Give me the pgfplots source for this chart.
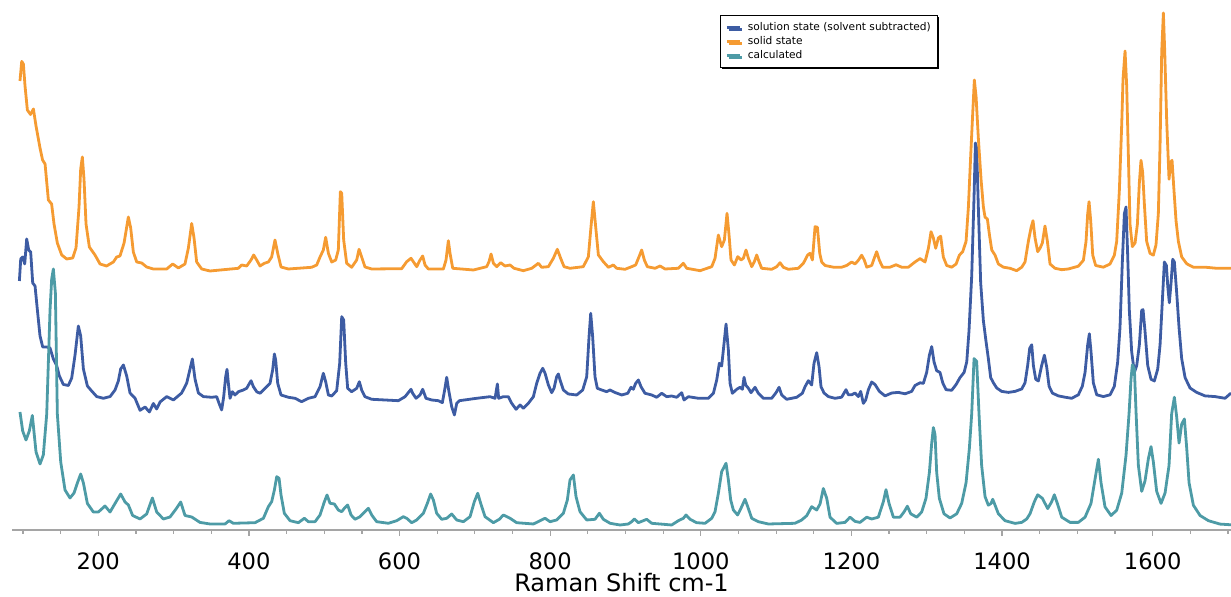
\documentclass[border=0pt]{standalone}
\usepackage{pgfplots}
\pgfplotsset{compat=1.18}
\usepackage{fontspec}
\setmainfont{DejaVu Sans}
\usetikzlibrary{shadows}
\definecolor{cBlue}{RGB}{61,92,163}
\definecolor{cOrange}{RGB}{245,155,50}
\definecolor{cTeal}{RGB}{77,155,166}
\definecolor{cAxis}{RGB}{165,165,165}
\begin{document}
\begin{tikzpicture}
\begin{axis}[
  name=ax,
  scale only axis,
  width=609.5pt, height=265pt,
  xmin=85.4, xmax=1704, ymin=0, ymax=530,
  axis x line*=bottom, axis y line=none,
  x axis line style={cAxis, line width=1pt, -},
  xtick={200,400,...,1600},
  minor xtick={100,150,...,1700},
  ytick=\empty,
  tick style={cAxis, line width=0.6pt},
  major tick length=3pt, minor tick length=2pt,
  tick align=outside,
  /pgf/number format/assume math mode=true,
  /pgf/number format/1000 sep={},
  xticklabel style={font=\fontsize{11.3}{12}\selectfont, anchor=center, yshift=-12.5pt},
  xlabel={Raman Shift cm-1},
  xlabel style={font=\fontsize{12}{14}\selectfont, at={(axis description cs:0.5,0)}, anchor=center, yshift=-26.5pt},
  legend style={at={(axis description cs:0.5808,0.9717)}, anchor=north west,
    font=\fontsize{5.3}{6}\selectfont, draw=black, line width=0.5pt, fill=white,
    drop shadow={shadow xshift=1pt, shadow yshift=-1pt, opacity=1, fill=black},
    inner xsep=2.5pt, inner ysep=2.5pt, row sep=0pt, cells={anchor=west},
    nodes={inner sep=0.8pt, text height=4.2pt, text depth=1.2pt}},
  legend image code/.code={\draw[#1, line width=1.3pt] (0pt,0pt) -- (6.5pt,0pt); \path (9pt,0pt);},
  every axis plot/.append style={line width=1.4pt, line join=round},
]
\addplot[cBlue] coordinates {
(95.2,249) (97,271) (99.6,273) (102.3,266) (104.9,291) (107.6,280) (110.2,278) (112.9,247) (116,244) (119.1,220) (122.6,194) (126.2,183) (131.5,183) (135.9,182) (140.3,171) (144.7,164.5) (148.3,154) (153.6,145.5) (160.2,144.5) (164.7,152) (169.1,175) (173.5,204) (176.6,194) (180.2,161) (185.5,144) (191.2,139) (197.9,133.4) (206.7,131.7) (215.6,133.4) (222.2,140) (226.6,149) (229.7,161) (233.3,165) (237.7,154) (242.1,137) (248.8,131.7) (255.4,119.7) (262.1,123) (267.8,118) (273.1,126.5) (277.5,121) (282,128) (290.8,133.4) (299.7,130) (310.7,137) (317.4,147) (321.8,161) (324.9,171) (328.4,151) (332.9,137) (339.5,133.4)
(350.6,132.7) (357.2,133.3) (360.3,126.7) (363.8,120) (366.5,133.3) (369.1,153.3) (370.9,160.7) (372.7,146.7) (374.9,131.7) (378,138.3) (381.5,135) (386,138.3) (392.6,140) (397,141.7) (402.8,149.3) (405.9,143.3) (410.3,138.3) (414.7,136.7) (421.4,141.7) (428,146.7) (431.5,160) (433.8,176) (435.5,170) (438.2,146.7) (442.6,135) (452.4,132.7) (461.2,131.7) (470,128.3) (478.9,131.7) (487.8,133.3) (494.4,143.3) (498.8,156.7) (501.9,148.3) (505.5,135) (509.9,134) (516.5,139.3) (520.5,166.7) (523.2,213.3) (525.8,210) (528.5,166.7) (531.1,141.7) (536.4,138.3) (543.1,141.7) (546.6,148.3) (549.7,140) (554.1,133.3) (563,130.7) (580.7,130) (598.4,129.3) (607.3,133.3) (615.2,140.7)
(617.4,136.7) (621.9,131.7) (627.2,135) (630.7,140.7) (635.1,131.7) (642.7,130) (651.5,129.3) (656.8,127.3) (659.9,140) (662.6,152.7) (665.2,140) (669.2,123.3) (672.8,115) (675.9,126.7) (679.4,129.3) (702.4,131.7) (720.1,133.3) (726.8,131.7) (729.9,146) (731.6,131.7) (737.8,133.3) (744.5,133.3) (748.9,126.7) (754.7,120.7) (760,125) (764.4,121.7) (771,126.7) (777.7,133.3) (782.1,146.7) (786.5,156.7) (790.1,161.7) (793.2,156.7) (797.6,145) (802,137.3) (805.1,141.7) (808.6,153.3) (810.9,156) (813.1,150) (817.5,140) (824.1,136) (835.2,135) (843.2,140) (848.5,153.3) (851.6,193.3) (853.8,216.7) (856.4,193.3) (859.5,153.3) (862.6,141.7) (868.4,140) (875,138.3) (879.5,140) (886.1,137.5)
(895,135) (903,136.7) (907.3,142.7) (910.4,140.7) (913.5,146.7) (917.1,150) (920.6,143.3) (925.9,136.7) (934.8,135) (941.4,132.7) (948.1,136.7) (954.7,133.3) (961.3,134) (968,132.7) (974.6,137.3) (977.7,130) (983.5,133.3) (996.8,131.7) (1010,131.7) (1016.7,136.7) (1021.1,150) (1024.6,166.7) (1027.7,164) (1030.4,183.3) (1033.5,206) (1036.6,180) (1038.8,146.7) (1041.9,136.7) (1047.7,140.7) (1052.1,142.7) (1055.2,140.7) (1057.4,152.7) (1059.6,145) (1063.2,141.7) (1066.7,137.3) (1072,142.7) (1076.4,136.7) (1083.1,131.7) (1094.1,131.7) (1099.9,137.3) (1103.9,142.7) (1107.4,135) (1114,130.7) (1127.3,132.7) (1134.8,136.7) (1138.4,143.3) (1142.8,149.3) (1147.2,145) (1150.3,166.7) (1153.9,177.3) (1157,163.3) (1159.6,143.3)
(1163.6,137) (1169.4,133.4) (1178.2,131.7) (1187,132.8) (1192.8,140.3) (1195.9,135.2) (1200.3,135.2) (1204.8,137) (1209.2,133.4) (1212.3,138.6) (1215.8,126.6) (1218.9,130) (1222.5,140.3) (1226.9,148) (1231.3,145.5) (1237.1,138.6) (1244.6,134.1) (1253.5,137) (1262.3,137.6) (1271.2,136.2) (1280,138.6) (1284.4,144.5) (1291.1,147.2) (1295.5,146.6) (1299.9,157.6) (1303.5,174.8) (1306.6,183.4) (1309.7,168) (1313.2,159.3) (1317.6,157.6) (1321.2,147.2) (1325.6,140.3) (1333.1,139.7) (1339,145.5) (1344.2,152.4) (1349.6,157.6) (1353.1,168) (1356.1,199) (1359.7,254) (1362.8,333.4) (1364.6,387) (1366.3,381.7) (1368.5,323) (1371.6,247.2) (1375.2,209.3) (1378.7,188.6) (1381.8,171.4) (1384.9,152.4) (1388.5,147.2) (1392.9,142) (1399.5,138.6) (1408.4,137.6) (1417.2,138.6) (1426.1,141)
(1430.5,147.2) (1434,164.5) (1436.7,181.7) (1439.4,185.2) (1441.6,164.5) (1444.7,150.7) (1448.2,149) (1452.6,164.5) (1456.2,174.8) (1459.3,162.8) (1462.4,143.8) (1466.8,136.9) (1474.8,134.1) (1483.6,132.8) (1492.5,131.7) (1501.3,135.2) (1506.6,143.8) (1510.2,157.6) (1513.7,185.2) (1515.9,196.2) (1518.1,178.3) (1521.2,147.2) (1525.7,135.2) (1534.5,133.4) (1543.4,135.2) (1549.1,143.8) (1553.5,167.9) (1556.6,202.4) (1559.7,268) (1562.4,316.2) (1564.6,323) (1566.8,274.8) (1569,219.7) (1572.1,178.3) (1575.7,157.6) (1578.8,164.5) (1582.3,185.2) (1585.4,219.7) (1587.2,220.3) (1589.8,199) (1593.4,164.5) (1597.8,150.7) (1602.2,149) (1606.7,161) (1609.8,185.2) (1612.9,230) (1615.5,268) (1618.2,264.5) (1620,243.8) (1622.1,227.2) (1624.4,247.2) (1626.6,270.7) (1628.8,268) (1631.9,236.9) (1635,202.4) (1638.5,171.4) (1643,152.4) (1649.6,142) (1658.4,137.6) (1669.5,134.1) (1682.8,133.4) (1696.1,131.7) (1704,136.9)
};
\addlegendentry{solution state (solvent subtracted)}
\addplot[cOrange] coordinates {
(96,449) (98.3,468.6) (100.5,466) (102.7,444) (105.8,420) (110,415.5) (113.8,421) (117.3,404) (122.6,382) (126,370) (129.3,366) (133.7,330) (138,326) (141.2,306) (145.6,287) (151.4,275) (158,271) (166,272) (170.4,282) (174.4,323) (176.6,361) (178.8,373) (181,351) (183.7,306) (188.1,283) (195.6,275) (202.3,266) (211,264) (220,268) (224.4,273) (228.8,274) (234.2,287) (239.9,313) (243,302) (246.5,278) (251,268) (257.6,267) (264.2,263) (273,261) (290.8,261) (298.8,266) (306.3,262) (315.1,266) (319.6,282) (324,306.5) (327.1,292) (330.6,268) (337.3,261) (348.3,259)
(386,261.7) (390.4,265) (397,264) (402.8,270) (406.3,275) (410.3,270) (414.7,264) (420.5,266.7) (425.8,268) (430.2,273) (434.6,290) (438.2,276.7) (442.6,263) (452.4,261) (483.3,262.7) (490,265) (494.4,273) (498.8,280) (501.9,292.7) (505.5,276.7) (509.9,268) (515.2,270) (518.7,280) (521.4,338.3) (523.2,336.7) (525.8,290) (529.8,266.7) (536.4,262.7) (543.1,270) (546.2,280.7) (549.7,273) (554.1,263) (563,261) (602.8,261.3) (609.5,268.3) (615.2,271.7)
(619.2,267.3) (622.8,263.3) (627.2,270) (630.7,274) (633.8,265) (638.2,261) (658.2,261) (661.7,270) (664.8,289.3) (667,276.7) (670.6,261.7) (698,260) (715.7,263.3) (718.8,268.3) (721.5,276) (724.6,266.7) (729,263.3) (734.3,267.3) (740,264) (746.7,265) (752,261.7) (764.4,259.3) (775.5,261.7) (784.3,266.7) (788.7,262.7) (797.6,263.3) (804.2,271.7) (809.5,280.7) (813.9,271.7) (818.4,263.3) (826.3,261.7) (844,263.3) (850.7,273.3) (854.2,303.3) (857.3,328.3) (860.4,303.3) (864,275) (870.6,268.3) (877.3,262.7) (883.9,265) (888.3,261.7)
(899.4,260.7) (908.2,263.3) (913.5,265) (918,273.3) (921.5,280) (925,270) (929,263.3) (939.2,261.7) (945.9,264) (952.5,261) (970.2,261.7) (976.8,266.7) (981.3,261.7) (999,259.3) (1014.5,263.3) (1018.9,271.7) (1023.3,295) (1027.7,283.3) (1031.3,290) (1034.8,316.7) (1037.5,295) (1040.1,270) (1044.6,265) (1049,273.3) (1053.4,270) (1056.5,271.7) (1060,280) (1063.2,271.7) (1067.6,263.3) (1071.1,268.3) (1074.2,275) (1077.3,268.3) (1080.8,261.7) (1094.1,260.7) (1100.8,263.3) (1105.2,267.3) (1109.6,262.7) (1116.3,260.7) (1129.5,261.7) (1136.2,266.7) (1141.9,275) (1145,276.7) (1148.2,270) (1151.7,303.3) (1154.8,302.7) (1157.9,276.7)
(1160.5,268) (1165,264.5) (1176,262.8) (1187,262.8) (1193.7,264.5) (1200.3,268) (1204.8,266) (1209.2,269.7) (1213.6,274.8) (1217.2,269.7) (1220.3,262.8) (1226.9,264.5) (1230.4,272) (1233.5,278.3) (1237.1,269.7) (1241.5,262.8) (1251.2,262.8) (1259.2,265.2) (1266.7,262.8) (1275.6,262.8) (1284.4,268) (1291.1,271.4) (1297.7,268) (1302.2,281.7) (1305.7,298.3) (1308.8,292) (1311.9,281.7) (1315.4,292) (1318.5,293.8) (1322,273) (1326.5,264.5) (1333.1,262.8) (1339,266) (1343.3,274.8) (1347.7,278.3) (1352.2,288.6) (1355.3,323) (1358.4,374.8) (1361,416) (1363.2,450) (1365.5,433.4) (1368.5,392) (1372.1,350.7) (1375.2,323) (1377.4,312.8) (1380.5,311) (1383.2,295.5) (1386.3,280) (1390.7,274.8) (1395.1,266) (1401.8,262.8) (1410.6,261.7) (1419.4,259.3) (1426.1,262.8)
(1430.5,268) (1434.9,288.6) (1438.5,302.4) (1441.1,309.3) (1443.8,292) (1447.3,278.3) (1450.4,281.7) (1453.5,287) (1457,304) (1460.2,288.6) (1463.7,266) (1470.3,261.7) (1479.2,260.3) (1488,261) (1501.3,263.8) (1508,269.7) (1511.5,288.6) (1513.7,316.2) (1515.5,328.3) (1517.7,309.3) (1520.4,274.8) (1524.3,264.5) (1534.5,262.8) (1543.4,266) (1549.1,274.8) (1552.2,288.6) (1555.8,340.3) (1558.9,405.9) (1560.6,450.7) (1563.3,479) (1565.5,443.8) (1567.7,374.8) (1569.9,305.9) (1573,283.4) (1576.6,287) (1579.7,305.9) (1582.3,347.2) (1584.5,369.7) (1586.7,357.6) (1588.9,326.6) (1592,288.6) (1596.5,276.6) (1600.9,274.8) (1604.4,285.2) (1607.5,316.2) (1609.8,385.2) (1612,478.3) (1614.2,517) (1616,478.3) (1618.6,409.3) (1621.7,350.7) (1623.9,367.9) (1625.7,369.7) (1627.9,343.8) (1631,309.3) (1634.1,288.6) (1638.5,273.1) (1645.2,266.2) (1654,262.8) (1669.5,262.8) (1685,261.7) (1704,261.7)
};
\addlegendentry{solid state}
\addplot[cTeal] coordinates {
(96,118) (99.6,99) (104,90) (108.4,99) (112.4,114.5) (117.3,78) (122.6,66) (127,75) (131.5,116) (135.9,220) (138.1,251) (140.3,261) (143,237) (145.6,116) (150.1,68) (155.8,40) (162.4,32) (167.8,37) (172.2,47) (176.6,56) (180.2,47) (185.5,26.5) (193.4,18) (200.1,18) (208.9,24) (215.6,18) (222.2,26.5) (229.7,36) (235.5,28) (239.9,25) (245.6,14.5) (255.4,11) (264.2,16) (271.8,32) (277.5,18) (286.4,11) (295.2,13) (303.2,21) (309.4,28) (315.1,14.5) (324,13) (335,7.6) (348.3,6)
(368.3,6) (373.6,9.3) (379.3,6.7) (408.1,7.3) (419.2,11.7) (425.8,23.3) (430.2,28.3) (433.8,40) (436.9,53.3) (440,51.7) (442.6,35) (447,16.7) (454.6,9.3) (465.6,7.3) (473.6,11.7) (478.9,8.3) (487.8,8.3) (494.4,15) (500.2,28.3) (503.7,35) (507.7,26.7) (513.4,26) (518.7,20) (523.2,18.3) (526.7,21.7) (531.1,25) (535.6,15) (540.9,10.7) (547.5,13.3) (554.1,18.3) (558.6,21.7) (563,15) (569.6,8.3) (585.1,6.7) (596.2,9.3) (605,13.3) (609.5,11.7) (616.1,7.3)
(622.8,10) (631.6,16.7) (636.9,26.7) (641.3,36) (644.9,30) (649.3,16.7) (655.9,10.7) (662.6,11.7) (669.2,16) (675.9,10) (684.7,8.3) (693.6,13.3) (699.3,28.3) (703.8,36.7) (707.7,26.7) (713.5,13.3) (724.6,7.3) (732.5,10.7) (737.8,15) (746.7,11.7) (755.5,7.3) (777.7,6) (786.5,9.3) (793.2,11.7) (799.8,8.3) (808.6,10) (817.5,16.7) (822.8,30) (826.3,50) (830.8,55) (834.3,33.3) (839.6,18.3) (848.5,10) (859.5,10.7) (865.3,16.7) (870.6,10.7) (879.5,6.7) (892.7,5)
(903.8,6) (908.2,8.3) (911.8,11) (917.1,7.3) (923.7,9.3) (928.1,10.7) (934.8,6.7) (961.3,5) (970.2,9.3) (976.8,11.7) (980.4,15) (985.7,10.7) (994.5,7.3) (1005.6,6.7) (1014.5,11.7) (1018.9,18.3) (1023.3,36.7) (1027.7,58.3) (1033.5,66.7) (1036.6,50) (1039.7,30) (1043.2,20) (1048.9,15) (1054.3,23.3) (1058.7,30.7) (1062.3,23.3) (1067.6,11.7) (1076.4,8.3) (1089.7,6) (1125.1,6.7) (1133.9,10) (1140.6,14.3) (1147.2,23.3) (1153.9,20) (1158.3,26) (1162.7,41.5)
(1167.2,31.7) (1171.6,12.8) (1180.4,6.6) (1191.5,7.6) (1198.1,12.8) (1204.8,8.6) (1211.4,7.6) (1220.3,12.8) (1226.9,11) (1235.7,12.8) (1242.4,28.3) (1245.9,40.3) (1249.9,26.6) (1255.7,12.8) (1264.5,12.8) (1269.8,18) (1274.3,23.8) (1278.7,16.2) (1286.7,12.8) (1293.3,18) (1299,31.7) (1303.5,57.6) (1306.6,86.9) (1308.8,102.4) (1311,95.5) (1313.2,57.6) (1316.7,31.7) (1322.9,16.2) (1330.9,12) (1339.8,16.2) (1346.4,26.6) (1352.2,47.2) (1356.6,81.7) (1359.7,116.2) (1362.8,171.4) (1366.3,168.6) (1369.4,116.2) (1372.9,64.5) (1377.4,33.4) (1381.8,24.8) (1385.4,26.6) (1387.6,30.7) (1390.7,24.8) (1395.1,16.2) (1404,9.3) (1417.2,6.6) (1426.1,7.6)
(1432.7,11) (1437.1,16.2) (1442.9,28.3) (1447.3,35.2) (1453.5,31.7) (1460.6,21.4) (1465.9,28.3) (1469.4,35.2) (1473.4,26.6) (1479.2,12.8) (1490.3,7.6) (1501.3,7.6) (1510.2,12.8) (1518.1,26.6) (1523.4,50.7) (1527.9,70.7) (1531.4,47.2) (1536.7,23.1) (1544.7,14.5) (1552.2,19.7) (1558.9,36.9) (1564.6,74.8) (1568.6,116.2) (1571.2,150.7) (1573,165.2) (1575.7,161) (1578,116.2) (1581,64.5) (1585.4,38.6) (1589.8,49) (1594.3,71.4) (1597.8,83.4) (1600.9,67.9) (1605.3,38.6) (1611.1,26.6) (1616.4,36.9) (1621.7,64.5) (1625.2,116.2) (1628.8,132.8) (1631.9,112.8) (1635,86.9) (1638.5,105.9) (1642.1,111) (1645.2,81.7) (1648.3,47.2) (1654,24.8) (1662.9,14.5) (1674,9.3) (1689.4,5.9) (1704,5.2)
};
\addlegendentry{calculated}
\end{axis}
\pgfresetboundingbox
\path ([xshift=-6pt,yshift=-33.5pt]ax.south west) rectangle (ax.north east);
\end{tikzpicture}
\end{document}
